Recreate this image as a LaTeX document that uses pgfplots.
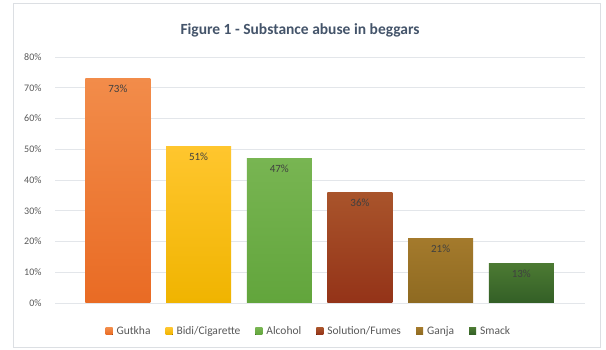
\documentclass[border=0pt]{standalone}
\usepackage{pgfplots}
\pgfplotsset{compat=1.18}
\usepackage{fontspec}
\setmainfont{Carlito}
\definecolor{gridc}{HTML}{E3E6EA}
\definecolor{framec}{HTML}{DCDFE3}
\definecolor{labc}{HTML}{595959}
\definecolor{titc}{HTML}{44546A}
\definecolor{valc}{HTML}{404040}
\begin{document}
\begin{tikzpicture}
\path[use as bounding box] (0pt,0pt) rectangle (606pt,350pt);
\fill[white] (0pt,0pt) rectangle (606pt,350pt);
\draw[framec, line width=0.8pt] (13pt,3pt) rectangle (600pt,347pt);
\node[font=\fontsize{15.5}{18}\selectfont\bfseries, text=titc] at (300pt,320pt) {Figure 1 - Substance abuse in beggars};
\begin{axis}[
  at={(55pt,47pt)}, anchor=south west,
  scale only axis, width=530pt, height=246pt,
  xmin=-0.78, xmax=5.79, ymin=0, ymax=80,
  ytick={0,10,...,80},
  yticklabel={\pgfmathprintnumber{\tick}\%},
  /pgf/number format/assume math mode=true,
  yticklabel style={font=\fontsize{10}{11}\selectfont, text=labc},
  tick style={draw=none},
  xtick=\empty,
  ymajorgrids, grid style={gridc, line width=0.8pt},
  axis line style={draw=none},
  yticklabel shift=10pt,
  ybar, bar width=65pt, bar shift=0pt,
  nodes near coords={\pgfmathprintnumber{\pgfplotspointmeta}\%},
  every node near coord/.append style={anchor=north, yshift=-3pt, font=\fontsize{11}{12}\selectfont, text=valc},
  legend columns=6,
  legend style={at={(0.479,-0.114)}, anchor=center, draw=none, fill=none,
    font=\fontsize{11.5}{13}\selectfont, text=labc,
    /tikz/every odd column/.append style={column sep=2pt},
    /tikz/every even column/.append style={column sep=13pt}},
  legend image code/.code={\fill[#1] (0pt,-3.5pt) rectangle (7pt,3.5pt);},
]
\addplot[draw=none, top color={rgb,255:red,242;green,140;blue,74}, bottom color={rgb,255:red,233;green,107;blue,36}] coordinates {(0,73)};
\addlegendentry{Gutkha}
\addplot[draw=none, top color={rgb,255:red,255;green,198;blue,46}, bottom color={rgb,255:red,240;green,180;blue,0}] coordinates {(1,51)};
\addlegendentry{Bidi/Cigarette}
\addplot[draw=none, top color={rgb,255:red,120;green,181;blue,82}, bottom color={rgb,255:red,98;green,165;blue,60}] coordinates {(2,47)};
\addlegendentry{Alcohol}
\addplot[draw=none, top color={rgb,255:red,169;green,84;blue,43}, bottom color={rgb,255:red,148;green,51;blue,24}] coordinates {(3,36)};
\addlegendentry{Solution/Fumes}
\addplot[draw=none, top color={rgb,255:red,164;green,122;blue,44}, bottom color={rgb,255:red,142;green,106;blue,33}] coordinates {(4,21)};
\addlegendentry{Ganja}
\addplot[draw=none, top color={rgb,255:red,76;green,122;blue,51}, bottom color={rgb,255:red,51;green,95;blue,38}] coordinates {(5,13)};
\addlegendentry{Smack}
\end{axis}
\end{tikzpicture}
\end{document}
